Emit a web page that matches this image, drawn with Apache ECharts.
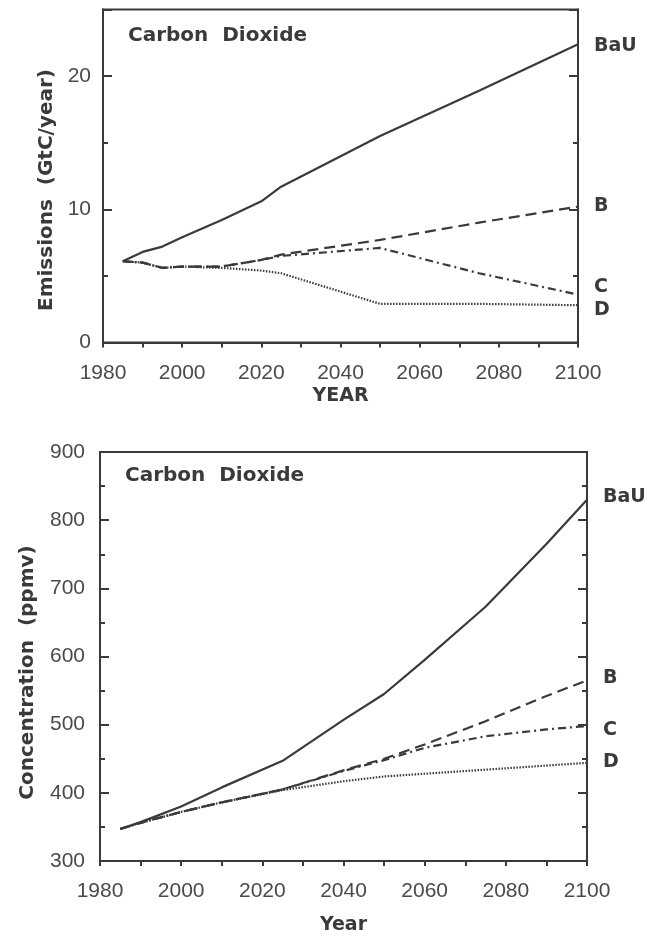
<!DOCTYPE html>
<html>
<head>
<meta charset="utf-8">
<script src="https://cdn.jsdelivr.net/npm/echarts@6/dist/echarts.min.js"></script>
<style>
  html, body { margin: 0; padding: 0; background: #fff; }
  #chart { width: 646px; height: 942px; }
</style>
</head>
<body>
<div id="chart"></div>
<script>
// Scenario names
const scenarios = ['BaU', 'B', 'C', 'D'];

// CO2 emissions (GtC/year)
const emissionYears = [1985, 1990, 1995, 2000, 2010, 2020, 2025, 2050, 2075, 2100];
const emissionsBaU = [6.1, 6.8, 7.2, 7.9, 9.2, 10.6, 11.7, 15.5, 18.9, 22.4];
const emissionsB   = [6.1, 6.0, 5.6, 5.7, 5.7, 6.2, 6.6, 7.7, 9.0, 10.2];
const emissionsC   = [6.1, 6.0, 5.6, 5.7, 5.7, 6.2, 6.5, 7.1, 5.2, 3.6];
const emissionsD   = [6.1, 6.0, 5.6, 5.7, 5.6, 5.4, 5.2, 2.9, 2.9, 2.8];

// CO2 concentration (ppmv)
const concYears = [1985, 1990, 2000, 2010, 2025, 2040, 2050, 2060, 2075, 2090, 2100];
const concBaU = [347, 357, 380, 408, 447, 507, 545, 595, 673, 765, 830];
const concB   = [347, 356, 372, 386, 405, 433, 450, 471, 505, 542, 565];
const concC   = [347, 356, 372, 386, 405, 432, 448, 466, 483, 493, 498];
const concD   = [347, 356, 372, 386, 404, 417, 424, 428, 434, 440, 444];

// Axis ticks
const yearTicks = [1980, 2000, 2020, 2040, 2060, 2080, 2100];
const emissionTicks = [0, 10, 20];
const concTicks = [300, 400, 500, 600, 700, 800, 900];

const INK = '#3a3a3a';
const LABEL = '#4a4a4a';
const NUM_FONT = { fontFamily: 'Liberation Sans', fontSize: 21, color: LABEL };
const BOLD_FONT = { fontFamily: 'DejaVu Sans', fontSize: 19, fontWeight: 'bold', color: INK };

const pairs = (xs, ys) => xs.map((x, i) => [x, ys[i]]);

const lineStyles = {
  BaU: { type: 'solid', width: 2.2 },
  B:   { type: [11, 6], width: 2.2 },
  C:   { type: [8, 4, 2, 4], width: 2.2 },
  D:   { type: [1.5, 1.5], width: 2.2 }
};

// vertical nudges for the scenario names at line ends
const emissionLabelShift = { BaU: 2, B: -1, C: -7, D: 5 };
const concLabelShift = { BaU: -3, B: -2, C: 4, D: -1 };

function xAxisFor(gridIndex, nameText, nameGap) {
  return {
    type: 'value', gridIndex, min: 1980, max: 2100, interval: 10,
    name: nameText, nameLocation: 'middle', nameGap,
    nameTextStyle: BOLD_FONT,
    axisLine: { show: true, lineStyle: { color: INK, width: 2 } },
    axisTick: { show: true, inside: false, length: 5, lineStyle: { color: INK, width: 2 } },
    axisLabel: Object.assign({ margin: 20, formatter: v => yearTicks.includes(v) ? String(v) : '' }, NUM_FONT),
    splitLine: { show: false }
  };
}

// shiftDown moves the rotated axis name along the axis towards the bottom
function yAxesFor(gridIndex, min, max, major, minor, labelTicks, nameText, nameGap, labelMargin, shiftDown) {
  const common = { type: 'value', gridIndex, min, max, splitLine: { show: false } };
  return [
    Object.assign({}, common, {
      position: 'left', interval: major,
      name: nameText, nameLocation: 'middle', nameGap, nameRotate: 90,
      nameTextStyle: Object.assign({ padding: [0, 2 * shiftDown, 0, 0] }, BOLD_FONT, { fontSize: 20 }),
      axisLine: { show: true, lineStyle: { color: INK, width: 2 } },
      axisTick: { show: true, inside: true, length: 9, lineStyle: { color: INK, width: 2 } },
      axisLabel: Object.assign({ margin: labelMargin, formatter: v => labelTicks.includes(v) ? String(v) : '' }, NUM_FONT)
    }),
    Object.assign({}, common, {
      position: 'left', interval: minor,
      axisLine: { show: false },
      axisTick: { show: true, inside: true, length: 5, lineStyle: { color: INK, width: 2 } },
      axisLabel: { show: false }
    }),
    Object.assign({}, common, {
      position: 'right', interval: major,
      axisLine: { show: true, lineStyle: { color: INK, width: 2 } },
      axisTick: { show: true, inside: true, length: 9, lineStyle: { color: INK, width: 2 } },
      axisLabel: { show: false }
    }),
    Object.assign({}, common, {
      position: 'right', interval: minor,
      axisLine: { show: false },
      axisTick: { show: true, inside: true, length: 5, lineStyle: { color: INK, width: 2 } },
      axisLabel: { show: false }
    })
  ];
}

function seriesFor(gridAxisX, gridAxisY, years, valuesByName, shifts) {
  return scenarios.map(name => ({
    name, type: 'line',
    xAxisIndex: gridAxisX, yAxisIndex: gridAxisY,
    data: pairs(years, valuesByName[name]),
    showSymbol: false, smooth: false, silent: true,
    lineStyle: Object.assign({ color: INK }, lineStyles[name]),
    endLabel: Object.assign({
      show: true, formatter: '{a}', distance: 16, offset: [0, shifts[name]]
    }, BOLD_FONT)
  }));
}

const chart = echarts.init(document.getElementById('chart'), null, { renderer: 'canvas' });

chart.setOption({
  animation: false,
  backgroundColor: '#fff',
  title: [
    { text: 'Carbon  Dioxide', left: 123, top: 21, textStyle: Object.assign({}, BOLD_FONT, { fontSize: 20 }) },
    { text: 'Carbon  Dioxide', left: 120, top: 461, textStyle: Object.assign({}, BOLD_FONT, { fontSize: 20 }) }
  ],
  grid: [
    { left: 103, top: 9.5, width: 475, height: 333, show: true, borderColor: INK, borderWidth: 2 },
    { left: 100, top: 452, width: 487, height: 409, show: true, borderColor: INK, borderWidth: 2 }
  ],
  xAxis: [
    xAxisFor(0, 'YEAR', 44),
    xAxisFor(1, 'Year', 55)
  ],
  yAxis: [
    ...yAxesFor(0, 0, 25, 10, 5, emissionTicks, 'Emissions  (GtC/year)', 46, 12, 14),
    ...yAxesFor(1, 300, 900, 100, 50, concTicks, 'Concentration  (ppmv)', 62, 15, 16)
  ],
  series: [
    ...seriesFor(0, 0, emissionYears,
      { BaU: emissionsBaU, B: emissionsB, C: emissionsC, D: emissionsD }, emissionLabelShift),
    ...seriesFor(1, 4, concYears,
      { BaU: concBaU, B: concB, C: concC, D: concD }, concLabelShift)
  ]
});
</script>
</body>
</html>
